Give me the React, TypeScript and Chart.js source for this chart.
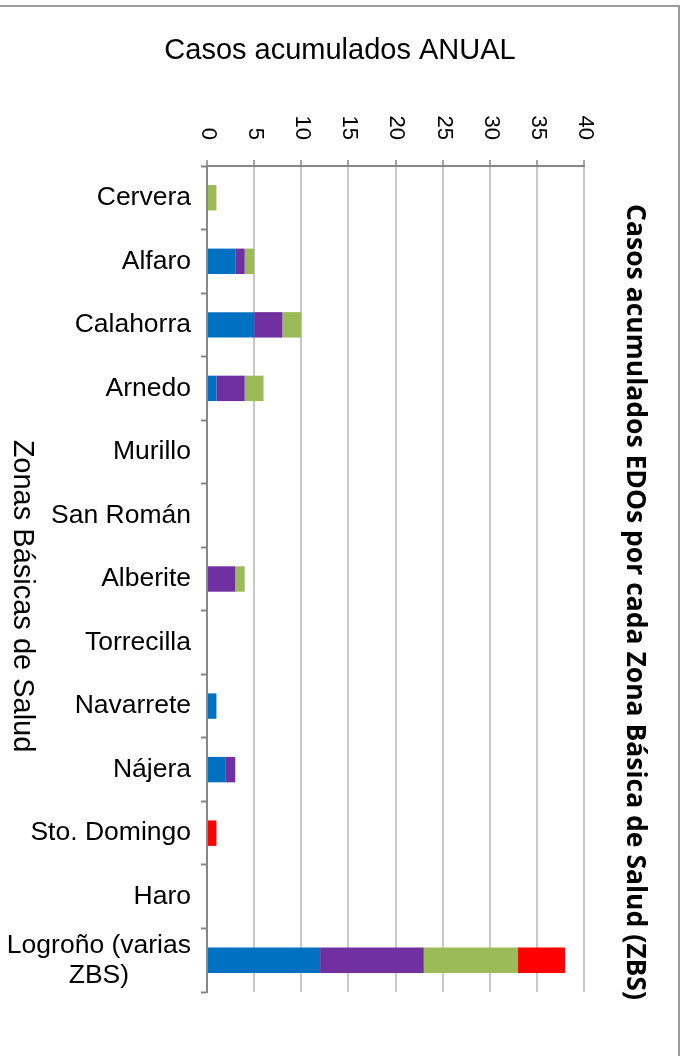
import React, { useEffect, useRef } from 'react';
import { Chart, registerables } from 'chart.js';

Chart.register(...registerables);

const categories: (string | string[])[] = [
  'Cervera', 'Alfaro', 'Calahorra', 'Arnedo', 'Murillo', 'San Román', 'Alberite',
  'Torrecilla', 'Navarrete', 'Nájera', 'Sto. Domingo', 'Haro', ['Logroño (varias', 'ZBS)'],
];
const serie1Values = [0, 3, 5, 1, 0, 0, 0, 0, 1, 2, 0, 0, 12];
const serie2Values = [0, 1, 3, 3, 0, 0, 3, 0, 0, 1, 0, 0, 11];
const serie3Values = [1, 1, 2, 2, 0, 0, 1, 0, 0, 0, 0, 0, 10];
const serie4Values = [0, 0, 0, 0, 0, 0, 0, 0, 0, 0, 1, 0, 5];
const xMin = 0;
const xMax = 40;
const xStep = 5;

const chartTitle = 'Casos acumulados ANUAL';
const rightTitle = 'Casos acumulados EDOs por cada Zona Básica de Salud (ZBS)';
const leftTitle = 'Zonas Básicas de Salud';

const FONT = '"Liberation Sans", Arial, sans-serif';

const customPlugin = {
  id: 'customText',
  beforeDraw(chart: any) {
    const ctx = chart.ctx;
    ctx.save();
    ctx.fillStyle = '#ffffff';
    ctx.fillRect(0, 0, chart.width, chart.height);
    ctx.strokeStyle = '#9a9a9a';
    ctx.lineWidth = 2;
    ctx.beginPath();
    ctx.moveTo(0, 6);
    ctx.lineTo(679, 6);
    ctx.lineTo(679, chart.height);
    ctx.stroke();
    ctx.restore();
  },
  afterDraw(chart: any) {
    const ctx = chart.ctx;
    const xs = chart.scales.x;
    const ys = chart.scales.y;
    ctx.save();
    ctx.fillStyle = '#000000';

    // x tick labels, rotated clockwise
    ctx.font = `22px ${FONT}`;
    xs.ticks.forEach((t: any, i: number) => {
      const x = xs.getPixelForTick(i);
      ctx.save();
      ctx.translate(x + 1, xs.top - 20);
      ctx.rotate(Math.PI / 2);
      ctx.textAlign = 'right';
      ctx.textBaseline = 'middle';
      ctx.fillText(String(t.value), 0, 0);
      ctx.restore();
    });

    // category labels
    ctx.font = `26.5px ${FONT}`;
    ctx.textBaseline = 'middle';
    const labels = chart.data.labels as (string | string[])[];
    labels.forEach((lab, i) => {
      const y = ys.getPixelForTick(i);
      const lines = Array.isArray(lab) ? lab : [lab];
      const widths = lines.map((l) => ctx.measureText(l).width);
      const maxW = Math.max(...widths);
      const right = ys.left - 10;
      const cx = right - maxW / 2;
      const lh = 30;
      lines.forEach((l, j) => {
        const ly = y + (j - (lines.length - 1) / 2) * lh;
        ctx.textAlign = 'center';
        ctx.fillText(l, cx, ly);
      });
    });

    // main title
    ctx.font = `29px ${FONT}`;
    ctx.textAlign = 'center';
    ctx.textBaseline = 'middle';
    ctx.fillText(chartTitle, 340, 51);

    // left axis title (rotated clockwise)
    ctx.save();
    ctx.translate(22, 596);
    ctx.rotate(Math.PI / 2);
    ctx.font = `29px ${FONT}`;
    ctx.textAlign = 'center';
    ctx.textBaseline = 'middle';
    ctx.fillText(leftTitle, 0, 0);
    ctx.restore();

    // right title (rotated clockwise, bold)
    ctx.save();
    ctx.translate(635, 602);
    ctx.rotate(Math.PI / 2);
    ctx.font = `bold 26.5px "Open Sans", "Noto Sans", sans-serif`;
    ctx.textAlign = 'center';
    ctx.textBaseline = 'middle';
    ctx.fillText(rightTitle, 0, 0);
    ctx.restore();

    ctx.restore();
  },
};

export default function App() {
  const canvasRef = useRef<HTMLCanvasElement | null>(null);

  useEffect(() => {
    if (!canvasRef.current) return;
    const mk = (label: string, data: number[], color: string) => ({
      label,
      data,
      backgroundColor: color,
      borderWidth: 0,
      categoryPercentage: 0.8,
      barPercentage: 0.5,
    });
    const chart = new Chart(canvasRef.current, {
      type: 'bar',
      data: {
        labels: categories as any,
        datasets: [
          mk('Serie 1', serie1Values, '#0070C0'),
          mk('Serie 2', serie2Values, '#7030A0'),
          mk('Serie 3', serie3Values, '#9BBB59'),
          mk('Serie 4', serie4Values, '#FF0000'),
        ],
      },
      options: {
        indexAxis: 'y',
        responsive: false,
        animation: false,
        layout: { padding: { top: 160, left: 201, right: 103, bottom: 64 } },
        plugins: {
          legend: { display: false },
          title: { display: false },
          tooltip: { enabled: false },
        },
        scales: {
          x: {
            position: 'top',
            stacked: true,
            min: xMin,
            max: xMax,
            ticks: { stepSize: xStep, display: false },
            grid: {
              color: '#C8C8C8',
              lineWidth: 2,
              tickColor: '#868686',
              tickLength: 6,
              tickWidth: 1.5,
            },
            border: { color: '#868686', width: 2 },
          },
          y: {
            stacked: true,
            ticks: { display: false },
            grid: {
              drawOnChartArea: false,
              offset: true,
              tickLength: 6,
              color: '#868686',
              tickWidth: 2,
            },
            border: { color: '#868686', width: 2 },
          },
        },
      },
      plugins: [customPlugin],
    });
    return () => chart.destroy();
  }, []);

  return (
    <div style={{ position: 'fixed', left: 0, top: 0, width: 687, height: 1056, background: '#fff' }}>
      <canvas ref={canvasRef} width={687} height={1056} style={{ display: 'block' }} />
    </div>
  );
}
